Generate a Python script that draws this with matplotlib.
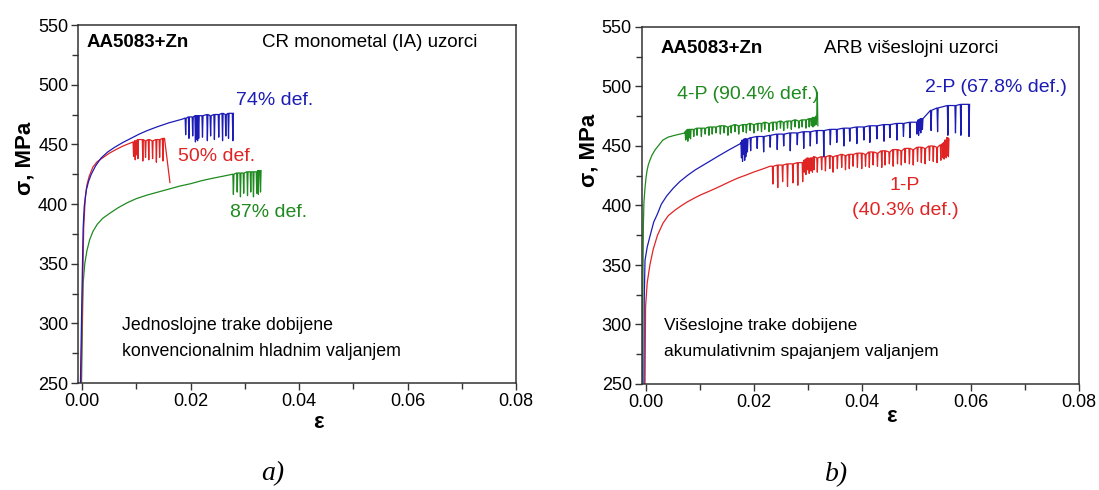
import matplotlib
matplotlib.use('Agg')
import matplotlib.pyplot as plt
from matplotlib.ticker import MultipleLocator

plt.rcParams['font.family'] = ['Liberation Sans', 'DejaVu Sans']

BLUE = '#1c1cb4'
RED = '#e02424'
GREEN = '#1f8a1f'

# ---------------- a) CR monometal (left) ----------------
a_blue_strain = [-0.0003, 0.0, 0.0002, 0.0004, 0.0008, 0.0012, 0.0017, 0.0025, 0.0035, 0.0047,
                 0.0060, 0.0075, 0.0090, 0.0105, 0.0120, 0.0138, 0.0160, 0.0184]
a_blue_stress = [250, 330, 380, 398, 412, 419, 425, 432, 438.5, 443.5,
                 447.5, 451.5, 455, 458.5, 461.5, 464.6, 468, 471]
a_blue_teeth = [0.0190, 0.0196, 0.0203, 0.0208, 0.0210, 0.0212, 0.0214, 0.0221, 0.0230, 0.0236,
                0.0243, 0.0251, 0.0258, 0.0264, 0.0269, 0.0277]
a_blue_peak = [472, 473, 473, 474, 474, 473, 474, 474, 475, 474, 475, 475, 476, 475, 476, 476]
a_blue_trough = [458, 455, 457, 452, 454, 453, 455, 456, 453, 457, 454, 456, 453, 457, 455, 453]

a_red_strain = [-0.0002, 0.0001, 0.0003, 0.0006, 0.0009, 0.0013, 0.0020, 0.0028, 0.0039, 0.0050,
                0.0062, 0.0075, 0.0094]
a_red_stress = [250, 330, 380, 406, 416, 423, 431, 435.5, 439, 442.5, 445.5, 448.5, 452]
a_red_teeth = [0.0094, 0.0097, 0.0100, 0.0102, 0.0111, 0.0116, 0.0122, 0.0129, 0.0136, 0.0142, 0.0148]
a_red_peak = [452, 453, 453, 454, 454, 453, 454, 453, 454, 454, 455]
a_red_trough = [440, 437, 441, 438, 436, 439, 437, 438, 435, 439, 436]
a_red_tail_strain = [0.0152, 0.0162]
a_red_tail_stress = [455, 418]

a_green_strain = [-0.0001, 0.0001, 0.0002, 0.0005, 0.0009, 0.0014, 0.0020, 0.0028, 0.0038, 0.0052,
                  0.0067, 0.0083, 0.0100, 0.0120, 0.0140, 0.0160, 0.0180, 0.0200, 0.0220, 0.0240,
                  0.0260, 0.0278]
a_green_stress = [250, 310, 334, 350, 361, 370, 377, 383, 388, 392.5,
                  397, 401, 404.5, 407.5, 410, 412.5, 415, 417, 419.5, 421.5,
                  423.3, 425]
a_green_teeth = [0.0278, 0.0285, 0.0291, 0.0297, 0.0304, 0.0310, 0.0315, 0.0321, 0.0324, 0.0328]
a_green_peak = [425, 426, 426, 426, 427, 427, 427, 427, 428, 428]
a_green_trough = [408, 410, 406, 409, 407, 410, 406, 409, 408, 410]

# ---------------- b) ARB multilayer (right) ----------------
b_green_strain = [-0.0006, -0.0005, -0.0004, -0.0003, -0.0001, 0.0001, 0.0003, 0.0005, 0.0008,
                  0.0012, 0.0018, 0.0025, 0.0032, 0.0042, 0.0054, 0.0073]
b_green_stress = [250, 330, 385, 403, 415, 424, 430, 434, 438,
                  442.5, 447, 451, 455, 457.5, 459, 461]
b_green_teeth = [0.0073, 0.0075, 0.0077, 0.0079, 0.0082,
                 0.0088, 0.0094, 0.0102, 0.0109, 0.0116, 0.0122, 0.0129, 0.0137, 0.0144, 0.0151,
                 0.0157, 0.0164, 0.0171, 0.0179, 0.0185, 0.0192, 0.0199, 0.0206, 0.0213, 0.0219,
                 0.0227, 0.0234, 0.0241, 0.0248, 0.0254, 0.0261, 0.0268, 0.0275, 0.0282, 0.0288,
                 0.0295, 0.0301,
                 0.0305, 0.0308, 0.0311, 0.0314]
b_green_peak = [462, 463, 464, 464, 464,
                464, 465, 465, 465, 466, 466, 466, 467, 467, 466,
                467, 468, 467, 468, 468, 469, 468, 469, 469, 470,
                469, 470, 470, 471, 470, 471, 471, 472, 471, 472,
                472, 473,
                473, 474, 474, 475]
b_green_trough = [455, 456, 454, 457, 456,
                  458, 459, 458, 460, 459, 460, 461, 460, 461, 459,
                  461, 462, 460, 462, 461, 463, 461, 463, 462, 464,
                  462, 463, 464, 465, 463, 465, 464, 466, 465, 466,
                  465, 466,
                  467, 466, 467, 468]
b_green_tail_strain = [0.0316, 0.0317, 0.0318]
b_green_tail_stress = [476, 495, 467]

b_blue_strain = [-0.0003, -0.00025, -0.00015, -0.0001, 0.0003, 0.0008, 0.0015, 0.0022, 0.0029,
                 0.0039, 0.0051, 0.0063, 0.0078, 0.0092, 0.0114, 0.0136, 0.0155, 0.0175]
b_blue_stress = [250, 320, 345, 354, 365, 374, 386, 393, 401,
                 408, 414.5, 420, 425.5, 430, 436, 442, 447, 452]
b_blue_teeth = [0.0176, 0.0178, 0.0180, 0.0182, 0.0184, 0.0185, 0.0187,
                0.0193, 0.0205, 0.0217, 0.0229, 0.0242, 0.0254, 0.0266, 0.0279, 0.0291, 0.0303,
                0.0315, 0.0328, 0.0340, 0.0352, 0.0365, 0.0376, 0.0389, 0.0402, 0.0413, 0.0426,
                0.0439, 0.0450, 0.0463, 0.0475, 0.0487,
                0.0500, 0.0502, 0.0503, 0.0505, 0.0507, 0.0510,
                0.0526, 0.0538, 0.0557, 0.0571, 0.0581, 0.0596]
b_blue_peak = [453, 455, 454, 456, 455, 456, 456,
               457, 458, 458, 459, 460, 460, 461, 461, 462, 462,
               463, 463, 464, 464, 465, 465, 466, 466, 467, 467,
               468, 468, 469, 469, 470,
               470, 471, 472, 471, 473, 473,
               480, 482, 484, 484, 485, 485]
b_blue_trough = [440, 437, 443, 438, 441, 444, 445,
                 446, 448, 445, 449, 447, 450, 446, 451, 448, 450,
                 452, 441, 451, 453, 450, 454, 452, 455, 453, 456,
                 454, 457, 455, 458, 457,
                 460, 462, 459, 463, 461, 464,
                 463, 462, 459, 461, 459, 458]

b_red_strain = [-0.0001, -0.00005, 0.0, 0.0003, 0.0008, 0.0014, 0.0022, 0.0032, 0.0042, 0.0054,
                0.0065, 0.0077, 0.0089, 0.0102, 0.0120, 0.0137, 0.0153, 0.0170, 0.0185, 0.0199,
                0.0215, 0.0230]
b_red_stress = [250, 290, 315, 335, 350, 363, 375, 385, 391.5, 396,
                399.5, 403, 406, 409, 412.5, 416, 419.5, 423, 425.5, 428,
                430.5, 433]
b_red_teeth = [0.0234, 0.0243, 0.0252, 0.0261, 0.0271, 0.0280, 0.0289,
               0.0292, 0.0295, 0.0298, 0.0301, 0.0304, 0.0307, 0.0310,
               0.0316, 0.0324, 0.0331, 0.0339, 0.0345, 0.0353, 0.0361, 0.0368, 0.0375, 0.0382,
               0.0390, 0.0398, 0.0405, 0.0412, 0.0419, 0.0427, 0.0435, 0.0441, 0.0449, 0.0456,
               0.0464, 0.0471, 0.0478, 0.0486, 0.0493, 0.0501, 0.0508, 0.0515, 0.0523, 0.0530,
               0.0537, 0.0544,
               0.0548, 0.0550, 0.0552, 0.0554, 0.0556, 0.0558]
b_red_peak = [433, 434, 434, 435, 435, 436, 436,
              438, 439, 440, 439, 440, 440, 441,
              440, 441, 441, 442, 441, 442, 443, 442, 443, 443,
              444, 444, 443, 445, 445, 444, 446, 446, 445, 447,
              447, 446, 448, 448, 447, 449, 449, 448, 450, 450,
              449, 451,
              452, 453, 455, 454, 457, 456]
b_red_trough = [418, 415, 420, 416, 419, 417, 420,
                428, 426, 430, 427, 429, 428, 430,
                428, 430, 429, 431, 428, 431, 432, 430, 431, 433,
                432, 431, 433, 432, 434, 433, 432, 434, 435, 433,
                435, 434, 436, 435, 434, 437, 436, 435, 438, 437,
                436, 438,
                440, 439, 441, 440, 442, 441]

x_ticks = [0.00, 0.02, 0.04, 0.06, 0.08]
y_ticks = [250, 300, 350, 400, 450, 500, 550]


def curve(strain, stress, teeth, peak, trough, tail_x=(), tail_y=(), dw=0.0001):
    xs = list(strain)
    ys = list(stress)
    for s, p, t in zip(teeth, peak, trough):
        xs += [s, s + dw, s + 2 * dw]
        ys += [p, t, p]
    xs += list(tail_x)
    ys += list(tail_y)
    return xs, ys


def style_axes(ax):
    ax.set_xlim(-0.00075, 0.08)
    ax.set_ylim(250, 550)
    ax.set_xticks(x_ticks)
    ax.set_xticklabels(['%.2f' % v for v in x_ticks])
    ax.set_yticks(y_ticks)
    ax.xaxis.set_minor_locator(MultipleLocator(0.01))
    ax.yaxis.set_minor_locator(MultipleLocator(25))
    ax.tick_params(which='both', direction='out', labelsize=13, color='#333333', width=1,
                   top=False, right=False, pad=2)
    ax.tick_params(which='major', length=5)
    ax.tick_params(which='minor', length=4)
    for sp in ax.spines.values():
        sp.set_color('#333333')
        sp.set_linewidth(1.1)


fig = plt.figure(figsize=(10.99, 4.90), dpi=100)
ax1 = fig.add_axes([78 / 1099, 1 - 383 / 490, 438 / 1099, 358 / 490])
ax2 = fig.add_axes([641.5 / 1099, 1 - 384 / 490, 437.5 / 1099, 357 / 490])

lw = 0.9
x, y = curve(a_green_strain, a_green_stress, a_green_teeth, a_green_peak, a_green_trough)
ax1.plot(x, y, color=GREEN, lw=lw)
x, y = curve(a_red_strain, a_red_stress, a_red_teeth, a_red_peak, a_red_trough,
             a_red_tail_strain, a_red_tail_stress)
ax1.plot(x, y, color=RED, lw=lw)
x, y = curve(a_blue_strain, a_blue_stress, a_blue_teeth, a_blue_peak, a_blue_trough)
ax1.plot(x, y, color=BLUE, lw=lw)

x, y = curve(b_red_strain, b_red_stress, b_red_teeth, b_red_peak, b_red_trough)
ax2.plot(x, y, color=RED, lw=lw)
x, y = curve(b_blue_strain, b_blue_stress, b_blue_teeth, b_blue_peak, b_blue_trough)
ax2.plot(x, y, color=BLUE, lw=lw)
x, y = curve(b_green_strain, b_green_stress, b_green_teeth, b_green_peak, b_green_trough,
             b_green_tail_strain, b_green_tail_stress)
ax2.plot(x, y, color=GREEN, lw=lw)

for ax in (ax1, ax2):
    style_axes(ax)

# left panel text
ax1.text(0.0009, 535, 'AA5083+Zn', fontsize=13.5, fontweight='bold', va='center')
ax1.text(0.0332, 535, 'CR monometal (IA) uzorci', fontsize=13.5, va='center')
ax1.text(0.0284, 487, '74% def.', fontsize=14, color=BLUE, va='center')
ax1.text(0.0177, 440, '50% def.', fontsize=14, color=RED, va='center')
ax1.text(0.0273, 393, '87% def.', fontsize=14, color=GREEN, va='center')
ax1.text(0.0074, 298.5, 'Jednoslojne trake dobijene', fontsize=12.8, va='center')
ax1.text(0.0074, 276, 'konvencionalnim hladnim valjanjem', fontsize=12.8, va='center')

# right panel text
ax2.text(0.0027, 532, 'AA5083+Zn', fontsize=13.5, fontweight='bold', va='center')
ax2.text(0.0330, 532, 'ARB višeslojni uzorci', fontsize=13.5, va='center')
ax2.text(0.0058, 493, '4-P (90.4% def.)', fontsize=14, color=GREEN, va='center')
ax2.text(0.0516, 499, '2-P (67.8% def.)', fontsize=14, color=BLUE, va='center')
ax2.text(0.0479, 417, '1-P', fontsize=14, color=RED, va='center', ha='center')
ax2.text(0.0479, 395.5, '(40.3% def.)', fontsize=14, color=RED, va='center', ha='center')
ax2.text(0.0034, 299.5, 'Višeslojne trake dobijene', fontsize=12.5, va='center')
ax2.text(0.0034, 277, 'akumulativnim spajanjem valjanjem', fontsize=12.5, va='center')

# axis labels placed like the original
fig.text(25 / 1099, 1 - 158 / 490, 'σ, MPa', rotation=90, fontsize=16, fontweight='bold',
         ha='center', va='center')
fig.text(589 / 1099, 1 - 150 / 490, 'σ, MPa', rotation=90, fontsize=16, fontweight='bold',
         ha='center', va='center')
fig.text(318 / 1099, 1 - 422 / 490, 'ε', fontsize=16, fontweight='bold', ha='center', va='center')
fig.text(891 / 1099, 1 - 416 / 490, 'ε', fontsize=16, fontweight='bold', ha='center', va='center')

fig.text(273 / 1099, 1 - 474 / 490, 'a)', fontsize=20, style='italic', family='Liberation Serif',
         ha='center', va='center')
fig.text(837 / 1099, 1 - 475 / 490, 'b)', fontsize=20, style='italic', family='Liberation Serif',
         ha='center', va='center')

fig.savefig('out.png', dpi=100)
